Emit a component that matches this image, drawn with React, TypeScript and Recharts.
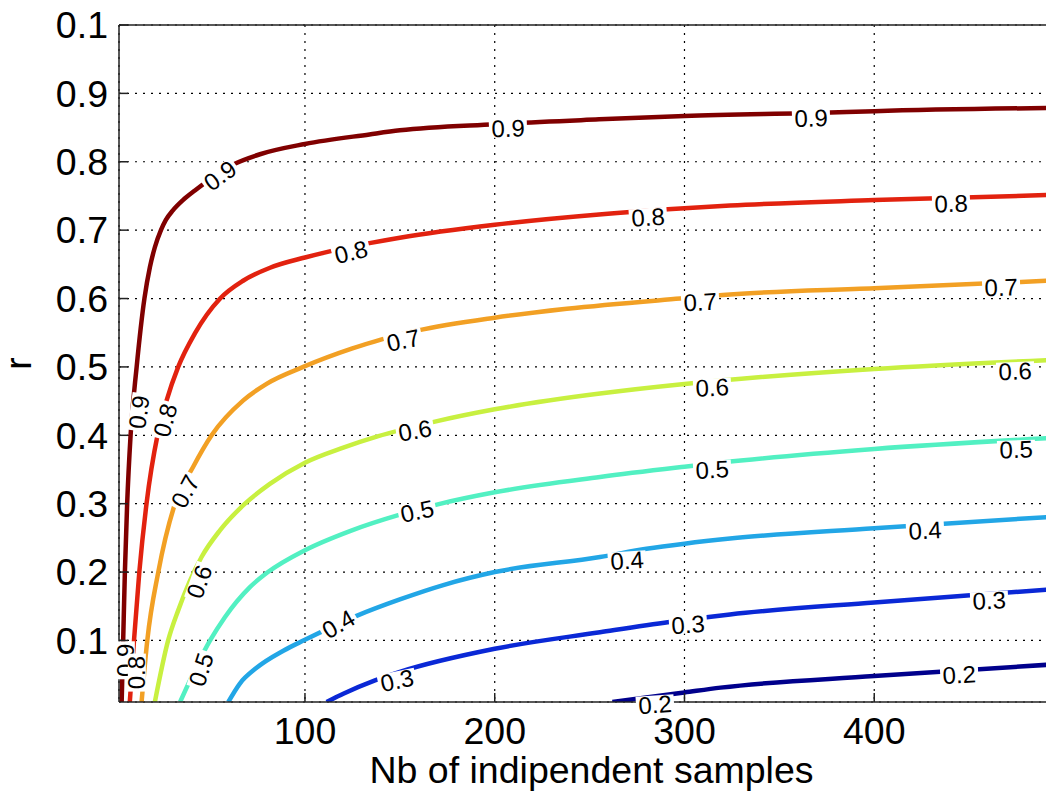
import React from 'react';
import { LineChart, Line, XAxis, YAxis, CartesianGrid, ReferenceDot, ReferenceLine } from 'recharts';

// contour lines: [number of independent samples, r]
const level09 = [[3.4, 0.01], [4.2, 0.1], [5.1, 0.2], [6.3, 0.3], [8.1, 0.4], [11.3, 0.5], [15.4, 0.6], [18.3, 0.646], [20.9, 0.675], [24.1, 0.7], [26.7, 0.715], [30.4, 0.729], [35.7, 0.744], [42, 0.758], [62.2, 0.796], [76.3, 0.811], [100, 0.826], [134, 0.84], [150, 0.846], [200, 0.855], [255, 0.862], [300, 0.867], [377, 0.872], [400, 0.874], [500, 0.879]];
const level08 = [[7.7, 0.01], [9.9, 0.1], [12.7, 0.2], [16.5, 0.3], [22.3, 0.4], [27.1, 0.451], [33.2, 0.5], [42, 0.549], [55.3, 0.6], [67.4, 0.626], [81.6, 0.645], [100, 0.66], [113, 0.669], [134, 0.681], [150, 0.689], [200, 0.708], [255, 0.723], [300, 0.732], [324, 0.736], [400, 0.744], [500, 0.752]];
const level07 = [[13.9, 0.01], [16.9, 0.1], [22.7, 0.2], [31.5, 0.3], [41.1, 0.354], [50.8, 0.4], [67.5, 0.451], [80, 0.4756], [99.1, 0.5], [125, 0.527], [140, 0.54], [159, 0.553], [200, 0.572], [238, 0.585], [297.7, 0.6], [324, 0.606], [400, 0.615], [500, 0.627]];
const level06 = [[20.9, 0.01], [27.9, 0.1], [33.2, 0.144], [45.5, 0.222], [55.2, 0.261], [68.4, 0.3], [81.5, 0.329], [100, 0.36], [120.2, 0.382], [137.8, 0.398], [168.5, 0.42], [200, 0.438], [255.5, 0.461], [300, 0.475], [318.8, 0.48], [400, 0.497], [500, 0.511]];
const level05 = [[34.2, 0.01], [50, 0.1], [57.8, 0.134], [71, 0.178], [80.5, 0.2], [100, 0.232], [123.7, 0.26], [150, 0.284], [170, 0.299], [200, 0.3166], [255.5, 0.339], [300, 0.354], [318.8, 0.36], [400, 0.38], [500, 0.397]];
const level04 = [[59.6, 0.01], [65.7, 0.037], [74.5, 0.06], [88.6, 0.085], [100, 0.101], [127.2, 0.136], [150, 0.16], [172.9, 0.181], [200, 0.2], [255.5, 0.222], [280, 0.234], [300, 0.2415], [324, 0.249], [400, 0.264], [500, 0.282]];
const level03 = [[111.4, 0.01], [120.2, 0.022], [136.9, 0.0415], [150, 0.054], [200, 0.0878], [255.5, 0.112], [292, 0.127], [311.7, 0.134], [324, 0.138], [400, 0.1555], [450.6, 0.166], [500, 0.176]];
const level02 = [[262, 0.01], [300, 0.024], [319, 0.031], [400, 0.048], [500, 0.066]];

const levels = [
  { name: '0.9', points: level09, color: '#800000' },
  { name: '0.8', points: level08, color: '#e2220f' },
  { name: '0.7', points: level07, color: '#f2a024' },
  { name: '0.6', points: level06, color: '#c8f040' },
  { name: '0.5', points: level05, color: '#52f0c2' },
  { name: '0.4', points: level04, color: '#22a6e6' },
  { name: '0.3', points: level03, color: '#0a28d6' },
  { name: '0.2', points: level02, color: '#00008c' },
];

// inline contour labels: text, position on the curve, tilt
const contourLabels = [
  { text: '0.9', x: 55.2, y: 0.78, angle: -36 },
  { text: '0.9', x: 207, y: 0.849, angle: -2 },
  { text: '0.9', x: 366.7, y: 0.864, angle: -2 },
  { text: '0.9', x: 12.5, y: 0.434, angle: -82 },
  { text: '0.9', x: 5.6, y: 0.071, angle: -90 },
  { text: '0.8', x: 124.3, y: 0.668, angle: -14 },
  { text: '0.8', x: 280.8, y: 0.719, angle: -4 },
  { text: '0.8', x: 440.5, y: 0.739, angle: -2 },
  { text: '0.8', x: 26.3, y: 0.422, angle: -75 },
  { text: '0.8', x: 11.4, y: 0.053, angle: -90 },
  { text: '0.7', x: 151.8, y: 0.539, angle: -12 },
  { text: '0.7', x: 308.3, y: 0.595, angle: -3 },
  { text: '0.7', x: 466.9, y: 0.6165, angle: -2 },
  { text: '0.7', x: 36.8, y: 0.318, angle: -62 },
  { text: '0.6', x: 158, y: 0.407, angle: -10 },
  { text: '0.6', x: 314.6, y: 0.47, angle: -3 },
  { text: '0.6', x: 474.3, y: 0.494, angle: -2 },
  { text: '0.6', x: 44.2, y: 0.186, angle: -70 },
  { text: '0.5', x: 159.1, y: 0.289, angle: -12 },
  { text: '0.5', x: 314.6, y: 0.35, angle: -3 },
  { text: '0.5', x: 474.8, y: 0.3795, angle: -2 },
  { text: '0.5', x: 45.2, y: 0.0576, angle: -72 },
  { text: '0.4', x: 117.6, y: 0.124, angle: -30 },
  { text: '0.4', x: 269.7, y: 0.217, angle: -4 },
  { text: '0.4', x: 426.8, y: 0.261, angle: -3 },
  { text: '0.3', x: 148.5, y: 0.0415, angle: -12 },
  { text: '0.3', x: 301.9, y: 0.1234, angle: -4 },
  { text: '0.3', x: 460.6, y: 0.1585, angle: -3 },
  { text: '0.2', x: 284.5, y: 0.0064, angle: -4 },
  { text: '0.2', x: 444.8, y: 0.05, angle: -3 },
];

const xTicks = [100, 200, 300, 400];
const yTicks = [0.1, 0.2, 0.3, 0.4, 0.5, 0.6, 0.7, 0.8, 0.9, 1];
const yTickLabels = ['0.1', '0.2', '0.3', '0.4', '0.5', '0.6', '0.7', '0.8', '0.9', '0.1'];

const FONT = '"Liberation Sans", Arial, Helvetica, sans-serif';
const AXIS = '#222';
const BIG = 37.5;

const YTick = (props: any) => {
  const { x, y, index } = props;
  return (
    <g>
      <line x1={x + 11} x2={x + 20} y1={y} y2={y} stroke={AXIS} strokeWidth={1.5} />
      <text x={x} y={y} dy="0.355em" textAnchor="end" fontSize={BIG} fontFamily={FONT} fill="#000">
        {yTickLabels[index]}
      </text>
    </g>
  );
};

const XTick = (props: any) => {
  const { x, y, payload } = props;
  return (
    <g>
      <line x1={x} x2={x} y1={y - 15} y2={y - 24} stroke={AXIS} strokeWidth={1.5} />
      <text x={x} y={y} dy="0.716em" textAnchor="middle" fontSize={BIG} fontFamily={FONT} fill="#000">
        {payload.value}
      </text>
    </g>
  );
};

const TopTick = (props: any) => {
  const { x, y } = props;
  return <line x1={x} x2={x} y1={y} y2={y + 9} stroke={AXIS} strokeWidth={1.5} />;
};

const labelShape = (text: string, angle: number) => (props: any) => {
  const { cx, cy } = props;
  return (
    <g transform={`translate(${cx},${cy}) rotate(${angle})`}>
      <rect x={-19} y={-9} width={38} height={18} fill="#fff" />
      <text x={0} y={0} dy="0.355em" textAnchor="middle" fontSize={24} fontFamily={FONT} fill="#000">
        {text}
      </text>
    </g>
  );
};

export default function App() {
  const series = levels.map((l) => ({
    ...l,
    data: l.points.map(([x, y]) => ({ x, y })),
  }));

  return (
    <div style={{ width: 1046, height: 796, overflow: 'hidden', background: '#fff', position: 'relative' }}>
      <style>{'body{margin:0;}'}</style>
      <LineChart width={1100} height={796} margin={{ top: 0, right: 36, bottom: 0, left: 0 }}>
        <CartesianGrid stroke="#000" strokeWidth={1.2} strokeDasharray="2 6" />
        <XAxis
          xAxisId="top"
          orientation="top"
          type="number"
          dataKey="x"
          domain={[2, 500]}
          ticks={xTicks}
          interval={0}
          height={25}
          axisLine={false}
          tickLine={false}
          tickSize={0}
          tickMargin={0}
          tick={<TopTick />}
        />
        <XAxis
          type="number"
          dataKey="x"
          domain={[2, 500]}
          allowDataOverflow
          ticks={xTicks}
          interval={0}
          height={94}
          axisLine={{ stroke: AXIS, strokeWidth: 1.5 }}
          tickLine={false}
          tickSize={0}
          tickMargin={15}
          tick={<XTick />}
          label={(p: any) => (
            <text
              x={p.viewBox.x + p.viewBox.width / 2}
              y={783}
              textAnchor="middle"
              fontSize={BIG}
              fontFamily={FONT}
              fill="#000"
            >
              Nb of indipendent samples
            </text>
          )}
        />
        <YAxis
          type="number"
          domain={[0.01, 1]}
          allowDataOverflow
          ticks={yTicks}
          interval={0}
          width={119}
          axisLine={{ stroke: AXIS, strokeWidth: 1.5 }}
          tickLine={false}
          tickSize={0}
          tickMargin={11}
          tick={<YTick />}
          label={(p: any) => (
            <text
              x={31}
              y={p.viewBox.y + p.viewBox.height / 2}
              transform={`rotate(-90, 31, ${p.viewBox.y + p.viewBox.height / 2})`}
              textAnchor="middle"
              fontSize={BIG}
              fontFamily={FONT}
              fill="#000"
            >
              r
            </text>
          )}
        />
        <ReferenceLine y={1} stroke={AXIS} strokeWidth={1.5} />
        {series.map((s) => (
          <Line
            key={s.name}
            data={s.data}
            dataKey="y"
            type="monotone"
            stroke={s.color}
            strokeWidth={4.5}
            dot={false}
            activeDot={false}
            isAnimationActive={false}
          />
        ))}
        {contourLabels.map((l, i) => (
          <ReferenceDot
            key={`lbl-${i}`}
            x={l.x}
            y={l.y}
            r={1}
            ifOverflow="hidden"
            shape={labelShape(l.text, l.angle)}
          />
        ))}
      </LineChart>
    </div>
  );
}
